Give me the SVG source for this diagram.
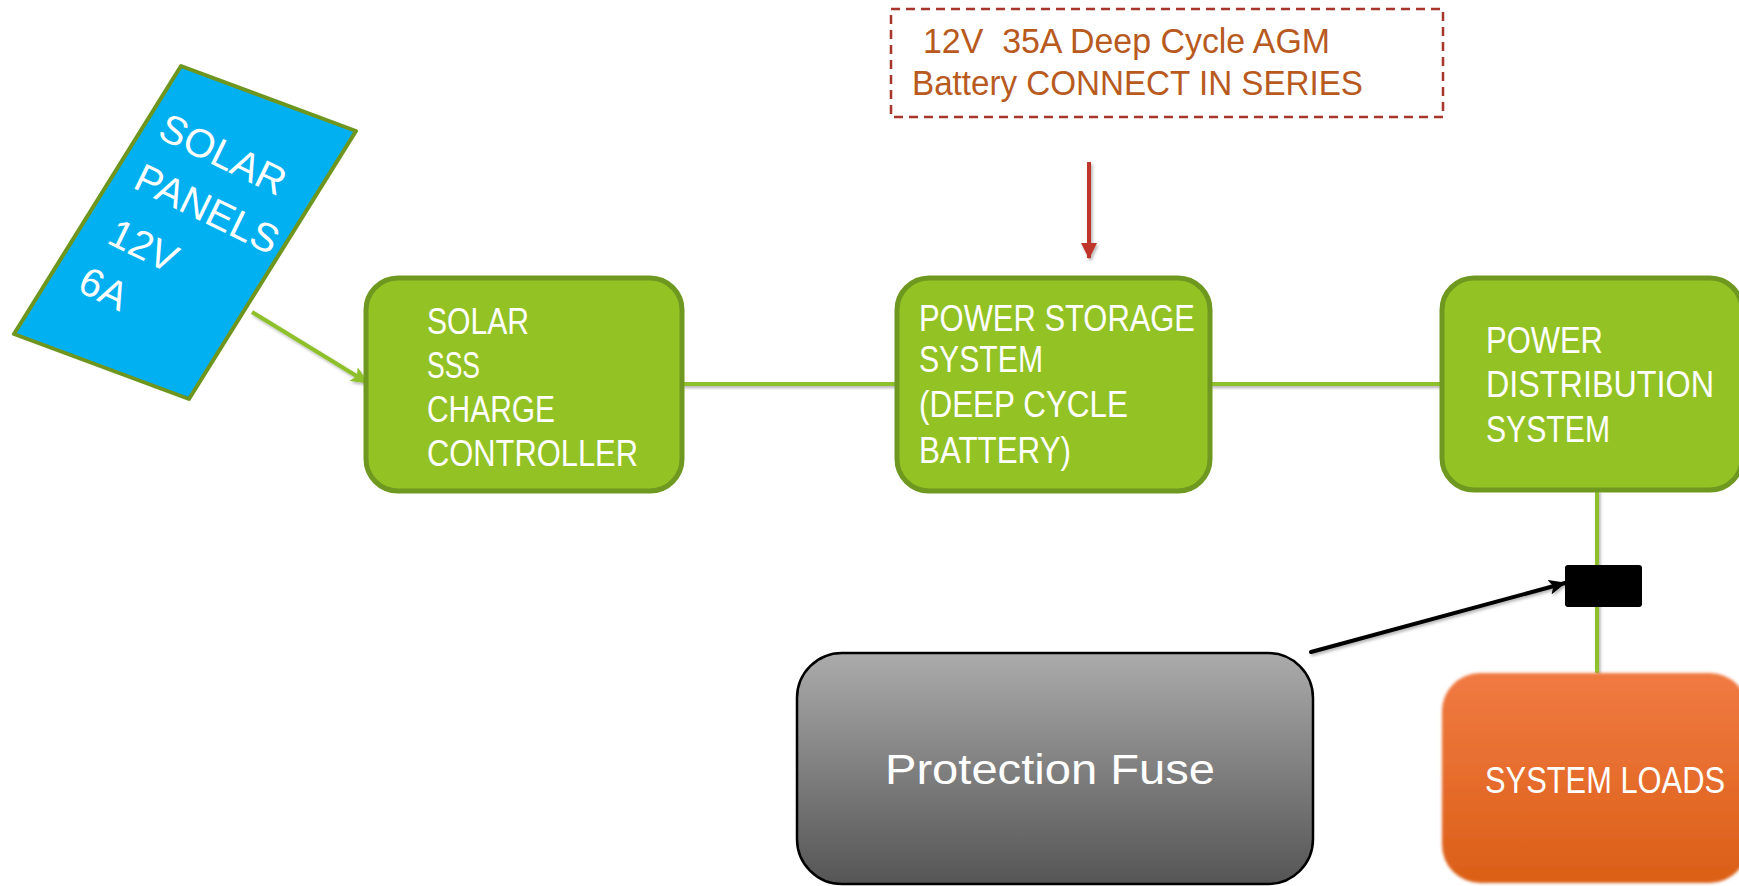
<svg xmlns="http://www.w3.org/2000/svg" width="1739" height="886" viewBox="0 0 1739 886">
<style>
.box{fill:#93C224;stroke:#6F9820;stroke-width:5}
.wt{fill:#FFFFFF;font-family:"Liberation Sans",Arial,sans-serif;font-size:36px}
.gl{stroke:#8DC02C;stroke-width:4;fill:none}
.callout{fill:#B85A1E;font-family:"Liberation Sans",Arial,sans-serif;font-size:35px;white-space:pre}
</style>
<defs>
<linearGradient id="gGray" x1="0" y1="0" x2="0" y2="1">
<stop offset="0" stop-color="#ABABAB"/>
<stop offset="1" stop-color="#555555"/>
</linearGradient>
<linearGradient id="gOrange" x1="0" y1="0" x2="0" y2="1">
<stop offset="0" stop-color="#F07A42"/>
<stop offset="1" stop-color="#DB5F16"/>
</linearGradient>
<filter id="sh" filterUnits="userSpaceOnUse" x="0" y="0" width="1739" height="886">
<feDropShadow dx="1.5" dy="2" stdDeviation="1.5" flood-color="#000" flood-opacity="0.3"/>
</filter>
<filter id="soft" x="-5%" y="-5%" width="110%" height="110%">
<feGaussianBlur stdDeviation="1.8"/>
</filter>
<marker id="aGreen" markerUnits="userSpaceOnUse" markerWidth="18" markerHeight="16" viewBox="0 0 18 16" refX="17" refY="8" orient="auto">
<path d="M0,0 L18,8 L0,16 L4,8 Z" fill="#8DC02C"/>
</marker>
<marker id="aRed" markerUnits="userSpaceOnUse" markerWidth="16" markerHeight="16" viewBox="0 0 16 16" refX="15" refY="8" orient="auto">
<path d="M0,0 L16,8 L0,16 Z" fill="#C0352A"/>
</marker>
<marker id="aBlack" markerUnits="userSpaceOnUse" markerWidth="17" markerHeight="15" viewBox="0 0 17 15" refX="16" refY="7.5" orient="auto">
<path d="M0,0 L17,7.5 L0,15 L4,7.5 Z" fill="#000"/>
</marker>
</defs>
<rect width="1739" height="886" fill="#FFFFFF"/>

<g id="connectors" filter="url(#sh)">
<line class="gl" x1="682" y1="384" x2="897" y2="384"/>
<line class="gl" x1="1210" y1="384" x2="1442" y2="384"/>
<line class="gl" x1="1597" y1="490" x2="1597" y2="673"/>
<line class="gl" x1="252" y1="312" x2="368" y2="383" marker-end="url(#aGreen)"/>
<line x1="1089" y1="162" x2="1089" y2="258" stroke="#C0352A" stroke-width="4" marker-end="url(#aRed)"/>
<line x1="1311" y1="652" x2="1565" y2="583" stroke="#000" stroke-width="4" stroke-linecap="round" marker-end="url(#aBlack)"/>
</g>

<g id="solar-panel">
<polygon points="181,66 356,131 189,399 14,334" fill="#00B0F0" stroke="#6E961E" stroke-width="4" stroke-linejoin="round"/>
<g transform="translate(156,137) rotate(26)" font-family="'Liberation Sans',Arial,sans-serif" font-size="40" fill="#FFFFFF">
<text x="0" y="0">SOLAR</text>
<text x="0" y="56">PANELS</text>
<text x="1" y="117">12V</text>
<text x="-5" y="173">6A</text>
</g>
</g>

<g id="charge-controller">
<rect class="box" x="366" y="278" width="316" height="213" rx="32"/>
<text class="wt" x="427" y="334" textLength="102" lengthAdjust="spacingAndGlyphs">SOLAR</text>
<text class="wt" x="427" y="378" textLength="53" lengthAdjust="spacingAndGlyphs">SSS</text>
<text class="wt" x="427" y="422" textLength="128" lengthAdjust="spacingAndGlyphs">CHARGE</text>
<text class="wt" x="427" y="466" textLength="211" lengthAdjust="spacingAndGlyphs">CONTROLLER</text>
</g>

<g id="power-storage">
<rect class="box" x="897" y="278" width="313" height="213" rx="32"/>
<text class="wt" x="919" y="331" textLength="276" lengthAdjust="spacingAndGlyphs">POWER STORAGE</text>
<text class="wt" x="919" y="372" textLength="124" lengthAdjust="spacingAndGlyphs">SYSTEM</text>
<text class="wt" x="919" y="417" textLength="209" lengthAdjust="spacingAndGlyphs">(DEEP CYCLE</text>
<text class="wt" x="919" y="463" textLength="152" lengthAdjust="spacingAndGlyphs">BATTERY)</text>
</g>

<g id="power-distribution">
<rect class="box" x="1442" y="278" width="300" height="212" rx="32"/>
<text class="wt" x="1486" y="353" textLength="117" lengthAdjust="spacingAndGlyphs">POWER</text>
<text class="wt" x="1486" y="397" textLength="228" lengthAdjust="spacingAndGlyphs">DISTRIBUTION</text>
<text class="wt" x="1486" y="442" textLength="124" lengthAdjust="spacingAndGlyphs">SYSTEM</text>
</g>

<g id="battery-note">
<rect x="891" y="9" width="552" height="108" fill="none" stroke="#A8352C" stroke-width="2.5" stroke-dasharray="9 6"/>
<text class="callout" x="923" y="53" textLength="407" lengthAdjust="spacingAndGlyphs">12V  35A Deep Cycle AGM</text>
<text class="callout" x="912" y="95" textLength="451" lengthAdjust="spacingAndGlyphs">Battery CONNECT IN SERIES</text>
</g>

<g id="fuse-marker">
<rect x="1565" y="565" width="77" height="42" rx="3" fill="#000000"/>
</g>

<g id="protection-fuse">
<rect x="797" y="653" width="516" height="231" rx="45" fill="url(#gGray)" stroke="#000" stroke-width="2.5"/>
<text x="1050" y="784" text-anchor="middle" font-family="'Liberation Sans',Arial,sans-serif" font-size="43" fill="#FFFFFF" textLength="330" lengthAdjust="spacingAndGlyphs">Protection Fuse</text>
</g>

<g id="system-loads">
<rect x="1442" y="673" width="306" height="210" rx="38" fill="url(#gOrange)" filter="url(#soft)"/>
<text class="wt" x="1485" y="793" textLength="240" lengthAdjust="spacingAndGlyphs">SYSTEM LOADS</text>
</g>
</svg>
